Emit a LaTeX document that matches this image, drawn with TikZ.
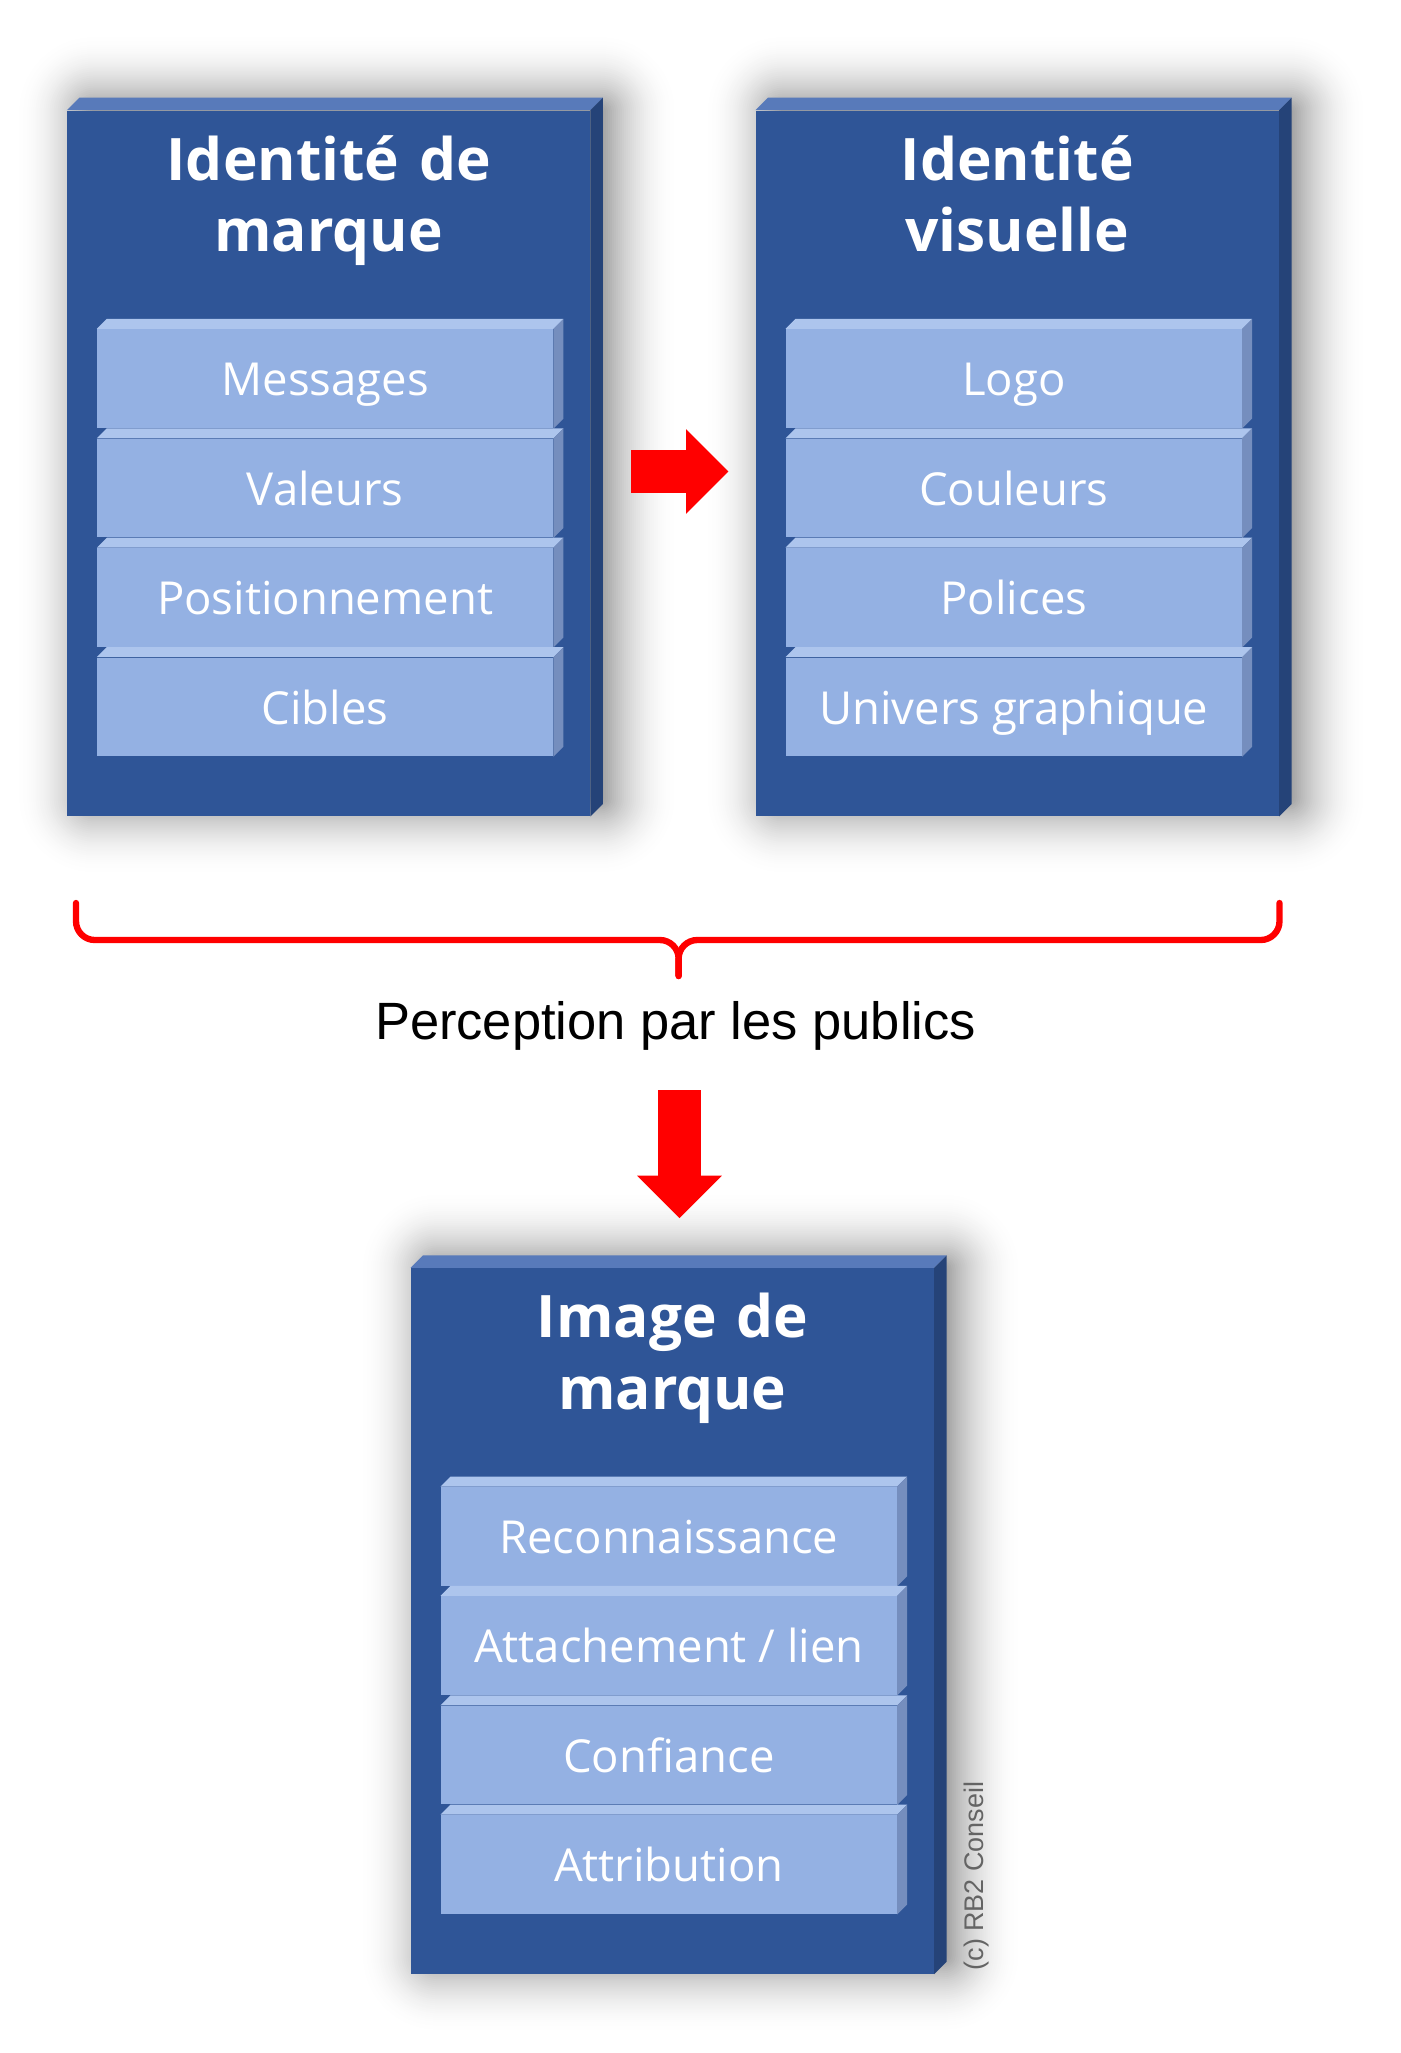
\documentclass[tikz,border=0pt]{standalone}
\usepackage{fontspec}
\setmainfont{Open Sans}
\newfontfamily\arialfont{Liberation Sans}
\usetikzlibrary{arrows.meta}
\usetikzlibrary{backgrounds}

\definecolor{boxfront}{RGB}{47,85,151}
\definecolor{boxtop}{RGB}{88,122,186}
\definecolor{boxside}{RGB}{37,67,120}
\definecolor{barfront}{RGB}{148,177,227}
\definecolor{bartop}{RGB}{173,197,237}
\definecolor{barside}{RGB}{117,142,190}
\definecolor{copygray}{RGB}{100,100,100}

\tikzset{
  bigbox/.style={rectangle,fill=boxfront,inner sep=0pt,minimum width=223.08pt,minimum height=301.02pt},
  bar/.style={rectangle,fill=barfront,inner sep=0pt,minimum width=194.49pt,minimum height=42.12pt,
    text=white,font=\fontsize{19.4}{24}\selectfont,text height=14.7pt,text depth=0pt},
  boxtitle/.style={text=white,font=\fontsize{25}{30.5}\selectfont\bfseries,text width=220pt,align=center,anchor=base,inner sep=0pt},
  fatarrow/.style={draw=red,line width=18.44pt,-{Triangle[width=36.15pt,length=18.05pt,line width=0pt]}},
  bracket/.style={draw=red,line width=2.7pt,line cap=round,rounded corners=8pt}
}

\begin{document}
\begin{tikzpicture}[x=0.015cm,y=-0.015cm]
\useasboundingbox (0,0) rectangle (1400,2053);

% the three blocks
\node[bigbox] (idm) at (328.65,463.35) {};
\node[bigbox] (idv) at (1017.35,463.35) {};
\node[bigbox] (imm) at (672.35,1620.95) {};
\foreach \b in {idm,idv,imm}{
  \fill[boxtop] (\b.north west) -- ++(12.5,-12.5) -- ([shift={(12.5,-12.5)}]\b.north east) -- (\b.north east) -- cycle;
  \fill[boxside] (\b.north east) -- ++(12.5,-12.5) -- ([shift={(12.5,-12.5)}]\b.south east) -- (\b.south east) -- cycle;
}
\node[boxtitle] (idm-t) at ([yshift=-29.8pt]idm.north) {Identité de\\marque};
\node[boxtitle] (idv-t) at ([yshift=-29.8pt]idv.north) {Identité\\visuelle};
\node[boxtitle] (imm-t) at ([yshift=-29.8pt]imm.north) {Image de\\marque};

% soft shadows behind the blocks
\begin{scope}[on background layer]
\fill[white] (0,0) rectangle (1400,2053);
\foreach \b in {idm,idv,imm}{
  \foreach \k in {80,78,...,0}{
    \pgfmathsetmacro\p{40*(1-\k/80)^2}
    \pgfmathsetmacro\r{\k*0.4268}
    \fill[black!\p,rounded corners=\r pt] ([shift={(27-\k,1.5-\k)}]\b.north west) rectangle ([shift={(9.5+\k,-19+\k)}]\b.south east);
  }
}
\end{scope}

% bars
\foreach \b/\list in {idm/{Messages,Valeurs,Positionnement,Cibles},
                      idv/{Logo,Couleurs,Polices,Univers graphique},
                      imm/{Reconnaissance,Attachement / lien,Confiance,Attribution}}{
  \foreach \t [count=\i] in \list{
    \node[bar] (\b-\i) at ([shift={(-3.5,{268.5+(\i-1)*109.4})}]\b.north) {\t};
    \fill[bartop] (\b-\i.north west) -- ++(10,-10) -- ([shift={(10,-10)}]\b-\i.north east) -- (\b-\i.north east) -- cycle;
    \fill[barside] (\b-\i.north east) -- ++(10,-10) -- ([shift={(10,-10)}]\b-\i.south east) -- (\b-\i.south east) -- cycle;
  }
}

% arrows
\coordinate (r-s) at (631,471.5);
\coordinate (r-e) at (728.3,471.5);
\draw[fatarrow] (r-s) -- (r-e);
\coordinate (d-s) at (679.5,1090);
\coordinate (d-e) at (679.5,1218);
\draw[fatarrow] (d-s) -- (d-e);

% brace
\coordinate (br-l) at (76,903);
\coordinate (br-r) at (1279.5,903);
\coordinate (br-m) at (678.6,940);
\coordinate (br-tip) at (678.6,976);
\draw[bracket] (br-l) |- (br-m) -- (br-tip);
\draw[bracket] (br-r) |- (br-m) -- (br-tip);

\node[font=\arialfont\fontsize{22.4}{27}\selectfont,anchor=base,inner sep=0pt] (percep) at (675.5,1039) {Perception par les publics};
\node[font=\arialfont\fontsize{11.5}{14}\selectfont,text=copygray,rotate=90,anchor=base,inner sep=0pt] (copy) at (983,1876) {(c) RB2 Conseil};
\end{tikzpicture}
\end{document}
